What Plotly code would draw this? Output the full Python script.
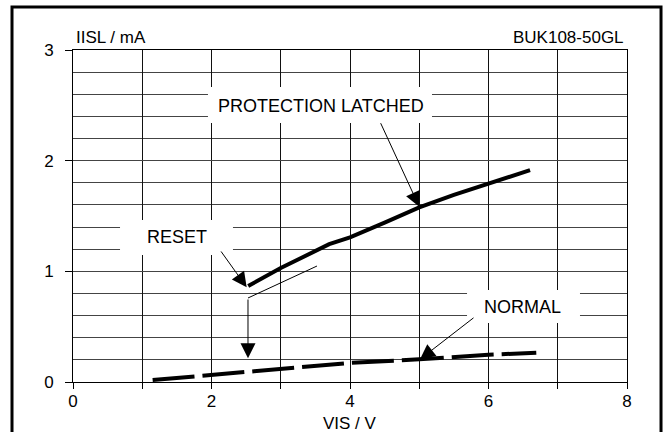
import plotly.graph_objects as go

# ---- data ----
latched_x = [2.53, 3.0, 3.7, 4.0, 4.5, 5.0, 5.5, 6.0, 6.6]
latched_y = [0.867, 1.03, 1.245, 1.307, 1.44, 1.577, 1.69, 1.79, 1.915]

normal_x = [1.15, 2.0, 3.0, 4.0, 5.0, 6.0, 6.69]
normal_y = [0.018, 0.062, 0.115, 0.172, 0.205, 0.246, 0.265]

x_ticks = [0, 1, 2, 3, 4, 5, 6, 7, 8]
x_tick_labels = ["0", "", "2", "", "4", "", "6", "", "8"]
y_ticks = [0, 1, 2, 3]
y_tick_labels = ["0", "1", "2", "3"]

FONT = "Liberation Sans, Arial, sans-serif"

fig = go.Figure()
fig.add_trace(go.Scatter(x=latched_x, y=latched_y, mode="lines",
                         line=dict(color="black", width=4), showlegend=False,
                         hoverinfo="skip"))
fig.add_trace(go.Scatter(x=normal_x, y=normal_y, mode="lines",
                         line=dict(color="black", width=4, dash="42px,8px"),
                         showlegend=False, hoverinfo="skip"))

shapes = []
# white label boxes
for (x0, x1, y0, y1) in [(1.949, 5.184, 2.340, 2.666),
                         (0.679, 2.310, 1.148, 1.464),
                         (5.690, 7.321, 0.533, 0.831)]:
    shapes.append(dict(type="rect", xref="x", yref="y", x0=x0, x1=x1, y0=y0, y1=y1,
                       fillcolor="white", line=dict(width=0), layer="above"))
# thin leader line from the latched curve to the reset arrow
shapes.append(dict(type="line", xref="x", yref="y", x0=3.523, y0=1.048, x1=2.527, y1=0.759,
                   line=dict(color="black", width=1), layer="above"))
# outer frame
shapes.append(dict(type="rect", xref="paper", yref="paper", x0=-0.1101, x1=1.0614,
                   y0=-0.2, y1=1.1295, line=dict(color="black", width=3), layer="above"))

ann = []
def label(text, x, y):
    ann.append(dict(text=text, x=x, y=y, xref="x", yref="y", showarrow=False,
                    font=dict(family=FONT, size=18, color="black")))

label("PROTECTION LATCHED", 3.574, 2.498)
label("RESET", 1.502, 1.310)
label("NORMAL", 6.491, 0.678)

def arrow(x, y, ax, ay, size=3.0):
    ann.append(dict(text="", x=x, y=y, ax=ax, ay=ay, xref="x", yref="y",
                    axref="x", ayref="y", showarrow=True, arrowhead=2,
                    arrowsize=size, arrowwidth=1, arrowcolor="black", standoff=0))

arrow(5.0, 1.584, 4.433, 2.352)
arrow(2.508, 0.856, 2.123, 1.193)
arrow(2.527, 0.214, 2.527, 0.759)
arrow(5.011, 0.205, 5.805, 0.590)

tfont = dict(family=FONT, size=17, color="black")
ann.append(dict(text="IISL / mA", x=0.0018, y=1.039, xref="paper", yref="paper",
                xanchor="left", yanchor="middle", showarrow=False, font=tfont))
ann.append(dict(text="BUK108-50GL", x=0.9982, y=1.039, xref="paper", yref="paper",
                xanchor="right", yanchor="middle", showarrow=False, font=tfont))
ann.append(dict(text="VIS / V", x=0.5, y=-0.125, xref="paper", yref="paper",
                xanchor="center", yanchor="middle", showarrow=False, font=tfont))

fig.update_layout(
    width=665, height=432,
    margin=dict(l=73, r=38, t=50, b=50, pad=0),
    paper_bgcolor="white", plot_bgcolor="white",
    shapes=shapes, annotations=ann,
    font=dict(family=FONT, size=17, color="black"),
    xaxis=dict(range=[0, 8], tickvals=x_ticks, ticktext=x_tick_labels,
               showgrid=True, gridcolor="#111", gridwidth=1,
               ticks="outside", ticklen=6, tickcolor="black", tickwidth=1,
               showline=True, mirror=True, linecolor="black", linewidth=1,
               zeroline=False, ticklabelstandoff=-2, fixedrange=True),
    yaxis=dict(range=[0, 3], tickvals=y_ticks, ticktext=y_tick_labels,
               showgrid=True, gridcolor="#444", gridwidth=1.3,
               minor=dict(dtick=0.2, tick0=0, showgrid=True, gridcolor="#444", gridwidth=1.3),
               ticks="outside", ticklen=7, tickcolor="black", tickwidth=1,
               showline=True, mirror=True, linecolor="black", linewidth=1,
               zeroline=False, ticklabelstandoff=8, fixedrange=True),
)

fig.write_html("out.html", config={"displayModeBar": False},
               post_script="document.body.style.margin='0';document.body.style.overflow='hidden';")
